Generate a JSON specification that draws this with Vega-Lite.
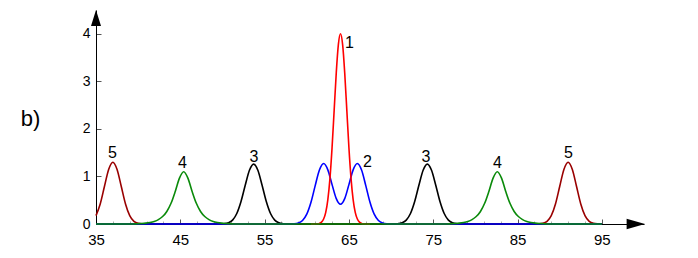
{
  "$schema": "https://vega.github.io/schema/vega-lite/v6.json",
  "width": 548,
  "height": 214,
  "autosize": {"type": "none"},
  "padding": {"left": 96, "top": 10, "right": 54, "bottom": 34},
  "background": "white",
  "config": {"view": {"stroke": null}, "font": "Liberation Sans"},
  "datasets": {
    "curves": [
      {"s": "5", "x": 35, "y": 0.176}, {"s": "5", "x": 35.5, "y": 0.422}, {"s": "5", "x": 36, "y": 0.788}, {"s": "5", "x": 36.5, "y": 1.147},
      {"s": "5", "x": 37, "y": 1.3}, {"s": "5", "x": 37.5, "y": 1.147}, {"s": "5", "x": 38, "y": 0.788}, {"s": "5", "x": 38.5, "y": 0.422},
      {"s": "5", "x": 39, "y": 0.176}, {"s": "5", "x": 39.5, "y": 0.057}, {"s": "5", "x": 40, "y": 0.014}, {"s": "5", "x": 40.5, "y": 0.003},
      {"s": "5", "x": 41, "y": 0}, {"s": "5", "x": 87, "y": 0}, {"s": "5", "x": 87.5, "y": 0.003}, {"s": "5", "x": 88, "y": 0.014},
      {"s": "5", "x": 88.5, "y": 0.057}, {"s": "5", "x": 89, "y": 0.176}, {"s": "5", "x": 89.5, "y": 0.422}, {"s": "5", "x": 90, "y": 0.788},
      {"s": "5", "x": 90.5, "y": 1.147}, {"s": "5", "x": 91, "y": 1.3}, {"s": "5", "x": 91.5, "y": 1.147}, {"s": "5", "x": 92, "y": 0.788},
      {"s": "5", "x": 92.5, "y": 0.422}, {"s": "5", "x": 93, "y": 0.176}, {"s": "5", "x": 93.5, "y": 0.057}, {"s": "5", "x": 94, "y": 0.014},
      {"s": "5", "x": 94.5, "y": 0.003}, {"s": "5", "x": 95, "y": 0},

      {"s": "3", "x": 35, "y": 0}, {"s": "3", "x": 49.7, "y": 0}, {"s": "3", "x": 50.2, "y": 0.006}, {"s": "3", "x": 50.7, "y": 0.025},
      {"s": "3", "x": 51.2, "y": 0.082}, {"s": "3", "x": 51.7, "y": 0.22}, {"s": "3", "x": 52.2, "y": 0.472}, {"s": "3", "x": 52.7, "y": 0.814},
      {"s": "3", "x": 53.2, "y": 1.13}, {"s": "3", "x": 53.7, "y": 1.26}, {"s": "3", "x": 54.2, "y": 1.13}, {"s": "3", "x": 54.7, "y": 0.814},
      {"s": "3", "x": 55.2, "y": 0.472}, {"s": "3", "x": 55.7, "y": 0.22}, {"s": "3", "x": 56.2, "y": 0.082}, {"s": "3", "x": 56.7, "y": 0.025},
      {"s": "3", "x": 57.2, "y": 0.006}, {"s": "3", "x": 57.7, "y": 0}, {"s": "3", "x": 70.3, "y": 0}, {"s": "3", "x": 70.8, "y": 0.006},
      {"s": "3", "x": 71.3, "y": 0.025}, {"s": "3", "x": 71.8, "y": 0.082}, {"s": "3", "x": 72.3, "y": 0.22}, {"s": "3", "x": 72.8, "y": 0.472},
      {"s": "3", "x": 73.3, "y": 0.814}, {"s": "3", "x": 73.8, "y": 1.13}, {"s": "3", "x": 74.3, "y": 1.26}, {"s": "3", "x": 74.8, "y": 1.13},
      {"s": "3", "x": 75.3, "y": 0.814}, {"s": "3", "x": 75.8, "y": 0.472}, {"s": "3", "x": 76.3, "y": 0.22}, {"s": "3", "x": 76.8, "y": 0.082},
      {"s": "3", "x": 77.3, "y": 0.025}, {"s": "3", "x": 77.8, "y": 0.006}, {"s": "3", "x": 78.3, "y": 0}, {"s": "3", "x": 95, "y": 0},

      {"s": "2", "x": 35, "y": 0}, {"s": "2", "x": 57.5, "y": 0}, {"s": "2", "x": 58, "y": 0.001}, {"s": "2", "x": 58.5, "y": 0.005},
      {"s": "2", "x": 59, "y": 0.021}, {"s": "2", "x": 59.5, "y": 0.075}, {"s": "2", "x": 60, "y": 0.207}, {"s": "2", "x": 60.5, "y": 0.458},
      {"s": "2", "x": 61, "y": 0.807}, {"s": "2", "x": 61.5, "y": 1.134}, {"s": "2", "x": 62, "y": 1.271}, {"s": "2", "x": 62.5, "y": 1.139},
      {"s": "2", "x": 63, "y": 0.828}, {"s": "2", "x": 63.5, "y": 0.533}, {"s": "2", "x": 64, "y": 0.414}, {"s": "2", "x": 64.5, "y": 0.533},
      {"s": "2", "x": 65, "y": 0.828}, {"s": "2", "x": 65.5, "y": 1.139}, {"s": "2", "x": 66, "y": 1.271}, {"s": "2", "x": 66.5, "y": 1.134},
      {"s": "2", "x": 67, "y": 0.807}, {"s": "2", "x": 67.5, "y": 0.458}, {"s": "2", "x": 68, "y": 0.207}, {"s": "2", "x": 68.5, "y": 0.075},
      {"s": "2", "x": 69, "y": 0.021}, {"s": "2", "x": 69.5, "y": 0.005}, {"s": "2", "x": 70, "y": 0.001}, {"s": "2", "x": 70.5, "y": 0},
      {"s": "2", "x": 95, "y": 0},

      {"s": "1", "x": 60.5, "y": 0}, {"s": "1", "x": 61, "y": 0.001}, {"s": "1", "x": 61.25, "y": 0.004}, {"s": "1", "x": 61.5, "y": 0.013},
      {"s": "1", "x": 61.75, "y": 0.039}, {"s": "1", "x": 62, "y": 0.104}, {"s": "1", "x": 62.25, "y": 0.244}, {"s": "1", "x": 62.5, "y": 0.513},
      {"s": "1", "x": 62.75, "y": 0.96}, {"s": "1", "x": 63, "y": 1.605}, {"s": "1", "x": 63.25, "y": 2.394}, {"s": "1", "x": 63.5, "y": 3.184},
      {"s": "1", "x": 63.75, "y": 3.778}, {"s": "1", "x": 64, "y": 4.0}, {"s": "1", "x": 64.25, "y": 3.778}, {"s": "1", "x": 64.5, "y": 3.184},
      {"s": "1", "x": 64.75, "y": 2.394}, {"s": "1", "x": 65, "y": 1.605}, {"s": "1", "x": 65.25, "y": 0.96}, {"s": "1", "x": 65.5, "y": 0.513},
      {"s": "1", "x": 65.75, "y": 0.244}, {"s": "1", "x": 66, "y": 0.104}, {"s": "1", "x": 66.25, "y": 0.039}, {"s": "1", "x": 66.5, "y": 0.013},
      {"s": "1", "x": 66.75, "y": 0.004}, {"s": "1", "x": 67, "y": 0.001}, {"s": "1", "x": 67.5, "y": 0},

      {"s": "4", "x": 35, "y": 0}, {"s": "4", "x": 39.4, "y": 0}, {"s": "4", "x": 39.9, "y": 0.006}, {"s": "4", "x": 40.4, "y": 0.011},
      {"s": "4", "x": 40.9, "y": 0.019}, {"s": "4", "x": 41.4, "y": 0.033}, {"s": "4", "x": 41.9, "y": 0.055}, {"s": "4", "x": 42.4, "y": 0.093},
      {"s": "4", "x": 42.9, "y": 0.157}, {"s": "4", "x": 43.4, "y": 0.264}, {"s": "4", "x": 43.9, "y": 0.435}, {"s": "4", "x": 44.4, "y": 0.684},
      {"s": "4", "x": 44.9, "y": 0.964}, {"s": "4", "x": 45.4, "y": 1.1}, {"s": "4", "x": 45.9, "y": 0.964}, {"s": "4", "x": 46.4, "y": 0.684},
      {"s": "4", "x": 46.9, "y": 0.435}, {"s": "4", "x": 47.4, "y": 0.264}, {"s": "4", "x": 47.9, "y": 0.157}, {"s": "4", "x": 48.4, "y": 0.093},
      {"s": "4", "x": 48.9, "y": 0.055}, {"s": "4", "x": 49.4, "y": 0.033}, {"s": "4", "x": 49.9, "y": 0.019}, {"s": "4", "x": 50.4, "y": 0.011},
      {"s": "4", "x": 50.9, "y": 0.006}, {"s": "4", "x": 51.4, "y": 0}, {"s": "4", "x": 76.6, "y": 0}, {"s": "4", "x": 77.1, "y": 0.006},
      {"s": "4", "x": 77.6, "y": 0.011}, {"s": "4", "x": 78.1, "y": 0.019}, {"s": "4", "x": 78.6, "y": 0.033}, {"s": "4", "x": 79.1, "y": 0.055},
      {"s": "4", "x": 79.6, "y": 0.093}, {"s": "4", "x": 80.1, "y": 0.157}, {"s": "4", "x": 80.6, "y": 0.264}, {"s": "4", "x": 81.1, "y": 0.435},
      {"s": "4", "x": 81.6, "y": 0.684}, {"s": "4", "x": 82.1, "y": 0.964}, {"s": "4", "x": 82.6, "y": 1.1}, {"s": "4", "x": 83.1, "y": 0.964},
      {"s": "4", "x": 83.6, "y": 0.684}, {"s": "4", "x": 84.1, "y": 0.435}, {"s": "4", "x": 84.6, "y": 0.264}, {"s": "4", "x": 85.1, "y": 0.157},
      {"s": "4", "x": 85.6, "y": 0.093}, {"s": "4", "x": 86.1, "y": 0.055}, {"s": "4", "x": 86.6, "y": 0.033}, {"s": "4", "x": 87.1, "y": 0.019},
      {"s": "4", "x": 87.6, "y": 0.011}, {"s": "4", "x": 88.1, "y": 0.006}, {"s": "4", "x": 88.6, "y": 0}, {"s": "4", "x": 95, "y": 0}
    ],
    "labels": [
      {"t": "1", "x": 65.07, "y": 3.806},
      {"t": "2", "x": 67.2, "y": 1.304},
      {"t": "3", "x": 53.74, "y": 1.409},
      {"t": "3", "x": 74.14, "y": 1.409},
      {"t": "4", "x": 45.26, "y": 1.293},
      {"t": "4", "x": 82.62, "y": 1.293},
      {"t": "5", "x": 36.96, "y": 1.493},
      {"t": "5", "x": 91.04, "y": 1.493}
    ],
    "arrows": [
      {"a": "y", "x": 35, "y": 4.332},
      {"a": "x", "x": 99.03, "y": 0}
    ]
  },
  "encoding": {
    "x": {
      "field": "x", "type": "quantitative",
      "scale": {"domain": [35, 100], "nice": false, "zero": false},
      "axis": {
        "values": [35, 37, 39, 41, 43, 45, 47, 49, 51, 53, 55, 57, 59, 61, 63, 65, 67, 69, 71, 73, 75, 77, 79, 81, 83, 85, 87, 89, 91, 93, 95],
        "format": "d",
        "labelExpr": "datum.value % 10 === 5 ? datum.label : ''",
        "tickSize": {"condition": {"test": "datum.value % 10 === 5", "value": -5}, "value": -3},
        "tickColor": {"condition": {"test": "datum.value % 10 === 5", "value": "#555555"}, "value": "#aaaaaa"},
        "grid": false,
        "domainColor": "black",
        "domainWidth": 1,
        "labelFont": "Liberation Sans",
        "labelFontSize": 15,
        "labelColor": "black",
        "labelPadding": 13,
        "labelFlush": false,
        "labelOverlap": false,
        "title": null
      }
    },
    "y": {
      "field": "y", "type": "quantitative",
      "scale": {"domain": [0, 4.5], "nice": false, "zero": false},
      "axis": {
        "values": [0, 0.5, 1, 1.5, 2, 2.5, 3, 3.5, 4],
        "format": "d",
        "labelExpr": "datum.value % 1 === 0 ? datum.label : ''",
        "tickSize": {"condition": {"test": "datum.value % 1 === 0", "value": -5}, "value": -3},
        "tickColor": {"condition": {"test": "datum.value % 1 === 0", "value": "#555555"}, "value": "#aaaaaa"},
        "grid": false,
        "domainColor": "black",
        "domainWidth": 1,
        "labelFont": "Liberation Sans",
        "labelFontSize": 14,
        "labelColor": "black",
        "labelPadding": 11,
        "labelFlush": false,
        "labelOverlap": false,
        "title": "b)",
        "titleAngle": 0,
        "titleX": -66,
        "titleY": 115,
        "titleAlign": "center",
        "titleBaseline": "alphabetic",
        "titleFont": "Liberation Sans",
        "titleFontSize": 22,
        "titleFontWeight": "normal",
        "titleColor": "black"
      }
    }
  },
  "layer": [
    {"data": {"name": "curves"}, "transform": [{"filter": "datum.s === '5'"}],
     "mark": {"type": "line", "color": "#990000", "strokeWidth": 1.6, "interpolate": "monotone"}},
    {"data": {"name": "curves"}, "transform": [{"filter": "datum.s === '3'"}],
     "mark": {"type": "line", "color": "#000000", "strokeWidth": 1.6, "interpolate": "monotone"}},
    {"data": {"name": "curves"}, "transform": [{"filter": "datum.s === '2'"}],
     "mark": {"type": "line", "color": "#0000ff", "strokeWidth": 1.6, "interpolate": "monotone"}},
    {"data": {"name": "curves"}, "transform": [{"filter": "datum.s === '1'"}],
     "mark": {"type": "line", "color": "#ff0000", "strokeWidth": 1.6, "interpolate": "monotone"}},
    {"data": {"name": "curves"}, "transform": [{"filter": "datum.s === '4'"}],
     "mark": {"type": "line", "color": "#0a8a0a", "strokeWidth": 1.6, "interpolate": "monotone"}},
    {"data": {"name": "labels"},
     "mark": {"type": "text", "font": "Liberation Sans", "fontSize": 16, "color": "black", "align": "center", "baseline": "middle"},
     "encoding": {"text": {"field": "t"}}},
    {"data": {"name": "arrows"}, "transform": [{"filter": "datum.a === 'y'"}],
     "mark": {"type": "point", "shape": "M0,-1L0.625,1L-0.625,1Z", "size": 256, "filled": true, "color": "black", "opacity": 1}},
    {"data": {"name": "arrows"}, "transform": [{"filter": "datum.a === 'x'"}],
     "mark": {"type": "point", "shape": "M1,0L-1,-0.58L-1,0.58Z", "size": 338, "filled": true, "color": "black", "opacity": 1}}
  ]
}
